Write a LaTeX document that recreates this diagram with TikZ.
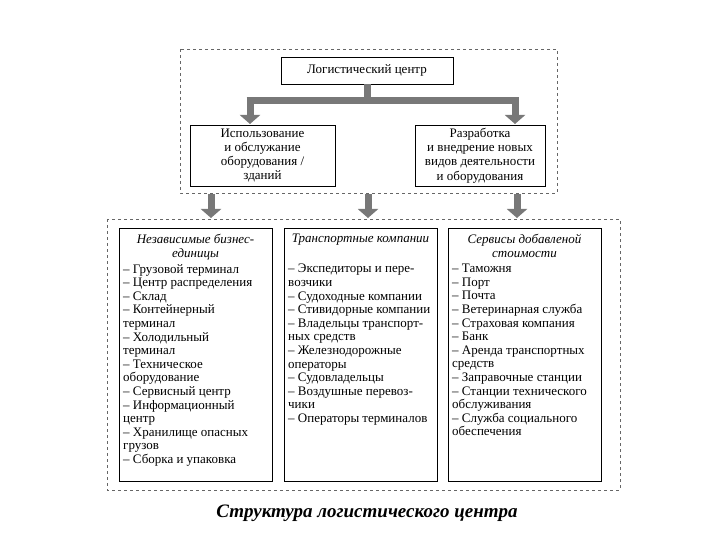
\documentclass[tikz,border=0pt]{standalone}
\usepackage{fontspec}
\setmainfont{Liberation Serif}
\usetikzlibrary{arrows.meta}
\definecolor{arrg}{RGB}{120,120,120}
\begin{document}
\begin{tikzpicture}[x=1pt,y=-1pt,
  box/.style={draw,line width=0.8pt,align=center,font=\fontsize{13}{14.2}\selectfont,inner sep=0pt},
  dbox/.style={draw,dashed,line width=0.6pt,gray!80!black},
  col/.style={draw,line width=0.8pt,anchor=north west,inner sep=0pt,minimum width=153pt,minimum height=253pt},
  coltext/.style={align=left,anchor=north west,font=\fontsize{13}{13.6}\selectfont,inner sep=0pt},
  head/.style={align=center,anchor=north,font=\fontsize{13}{13.6}\selectfont\itshape,inner sep=0pt},
  fat/.style={arrg,line width=7pt,-{Triangle[width=20pt,length=9pt]}},
  bar/.style={arrg,line width=7pt}]
\useasboundingbox (0,0) rectangle (720,540);
\draw[dbox] (180,49) rectangle (557,193);
\draw[dbox] (107,219) rectangle (620,490);
\node[box,minimum width=172pt,minimum height=27pt] (lc) at (367,70.5) {Логистический центр};
\node[box,minimum width=145pt,minimum height=61pt] (l) at (262.5,155.5) {Использование\\и обслужание\\оборудования /\\зданий};
\node[box,minimum width=130pt,minimum height=61pt] (r) at (480,155.5) {Разработка\\и внедрение новых\\видов деятельности\\и оборудования};
\coordinate (j) at (367,101);
\coordinate (jl) at (246.5,101);
\coordinate (jr) at (518.5,101);
\draw[bar] (lc.south) -- (j);
\draw[bar] (jl) -- (jr);
\draw[fat] (250,101) -- (250,124);
\draw[fat] (515,101) -- (515,124);
\node[col] (c1) at (119,228) {};
\node[col] (c2) at (284,228) {};
\node[col] (c3) at (448,228) {};
\node[head] (h1) at (195.5,234) {Независимые бизнес-\\единицы};
\node[head] (h2) at (360.5,234) {Транспортные компании};
\node[head] (h3) at (524.5,234) {Сервисы добавленой\\стоимости};
\node[coltext] (t1) at (123,264) {– Грузовой терминал\\– Центр распределения\\– Склад\\– Контейнерный\\терминал\\– Холодильный\\терминал\\– Техническое\\оборудование\\– Сервисный центр\\– Информационный\\центр\\– Хранилище опасных\\грузов\\– Сборка и упаковка};
\node[coltext] (t2) at (288,264) {– Экспедиторы и пере-\\возчики\\– Судоходные компании\\– Стивидорные компании\\– Владельцы транспорт-\\ных средств\\– Железнодорожные\\операторы\\– Судовладельцы\\– Воздушные перевоз-\\чики\\– Операторы терминалов};
\node[coltext] (t3) at (452,264) {– Таможня\\– Порт\\– Почта\\– Ветеринарная служба\\– Страховая компания\\– Банк\\– Аренда транспортных\\средств\\– Заправочные станции\\– Станции технического\\обслуживания\\– Служба социального\\обеспечения};
\draw[fat] (211,194) -- (211,218);
\draw[fat] (368,194) -- (368,218);
\draw[fat] (517,194) -- (517,218);
\node[font=\fontsize{19}{22}\selectfont\bfseries\itshape] (cap) at (367,513) {Структура логистического центра};
\end{tikzpicture}
\end{document}
